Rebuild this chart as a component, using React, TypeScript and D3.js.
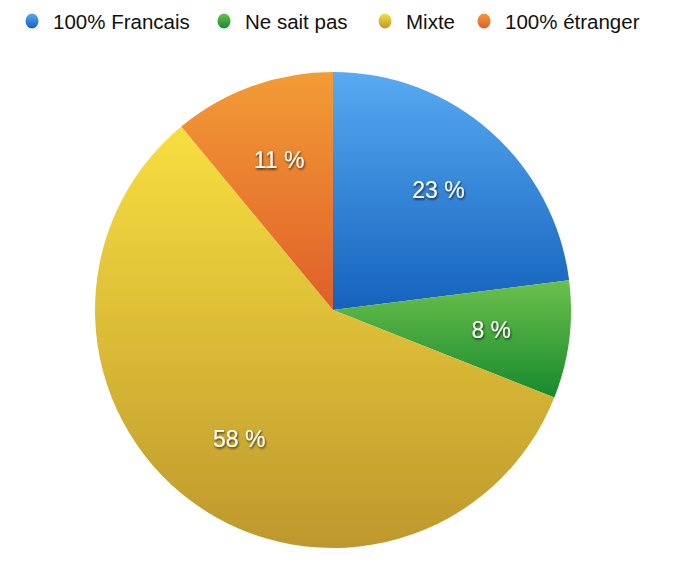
import { useEffect, useRef } from 'react';
import * as d3 from 'd3';

const categories = ['100% Francais', 'Ne sait pas', 'Mixte', '100% étranger'];
const values = [23, 8, 58, 11];
const topColors = ['#58aaf2', '#6cc04c', '#f8df40', '#f39c36'];
const bottomColors = ['#1462bd', '#178a2e', '#be982d', '#df5f29'];

const width = 674;
const height = 576;

export default function App() {
  const svgRef = useRef<SVGSVGElement>(null);

  useEffect(() => {
    if (!svgRef.current) return;
    const svg = d3.select(svgRef.current);
    svg.selectAll('*').remove();

    const cx = 333;
    const cy = 310;
    const radius = 238;

    const defs = svg.append('defs');

    const pie = d3.pie<number>().sort(null).value(d => d);
    const arcs = pie(values);
    const arc = d3.arc<d3.PieArcDatum<number>>().innerRadius(0).outerRadius(radius);
    const labelArc = d3.arc<d3.PieArcDatum<number>>().innerRadius(radius * 0.67).outerRadius(radius * 0.67);

    const filter = defs.append('filter')
      .attr('id', 'label-shadow')
      .attr('x', '-20%').attr('y', '-20%').attr('width', '140%').attr('height', '160%');
    filter.append('feDropShadow')
      .attr('dx', 0.8).attr('dy', 1.5)
      .attr('stdDeviation', 1.2)
      .attr('flood-color', '#000')
      .attr('flood-opacity', 0.75);

    values.forEach((_, i) => {
      const g = defs.append('linearGradient')
        .attr('id', `slice-grad-${i}`)
        .attr('x1', '0%').attr('y1', '0%')
        .attr('x2', '0%').attr('y2', '100%');
      g.append('stop').attr('offset', '0%').attr('stop-color', topColors[i]);
      g.append('stop').attr('offset', '100%').attr('stop-color', bottomColors[i]);
    });

    const pieGroup = svg.append('g')
      .attr('transform', `translate(${cx},${cy})`);

    pieGroup.selectAll('.slice')
      .data(arcs)
      .enter()
      .append('path')
      .attr('class', 'slice')
      .attr('d', arc)
      .attr('fill', (_, i) => `url(#slice-grad-${i})`);

    pieGroup.selectAll('.slice-label')
      .data(arcs)
      .enter()
      .append('text')
      .attr('class', 'slice-label')
      .attr('x', d => labelArc.centroid(d)[0])
      .attr('y', d => labelArc.centroid(d)[1])
      .attr('dy', '0.35em')
      .attr('text-anchor', 'middle')
      .attr('fill', '#fff')
      .attr('font-family', 'Liberation Sans, Arial, sans-serif')
      .attr('font-size', '23px')
      .attr('filter', 'url(#label-shadow)')
      .text(d => `${d.data} %`);

    // legend
    const legendX = [32, 224, 385, 484];
    const legend = svg.append('g');
    categories.forEach((c, i) => {
      legend.append('ellipse')
        .attr('cx', legendX[i])
        .attr('cy', 21)
        .attr('rx', 6.5)
        .attr('ry', 7.5)
        .attr('fill', `url(#slice-grad-${i})`);
      legend.append('text')
        .attr('x', legendX[i] + 21)
        .attr('y', 29)
        .attr('fill', '#111')
        .attr('font-family', 'Liberation Sans, Arial, sans-serif')
        .attr('font-size', '20.5px')
        .text(c);
    });
  }, []);

  return (
    <svg
      ref={svgRef}
      width={width}
      height={height}
      style={{ position: 'absolute', left: 0, top: 0, background: '#fff' }}
    />
  );
}
